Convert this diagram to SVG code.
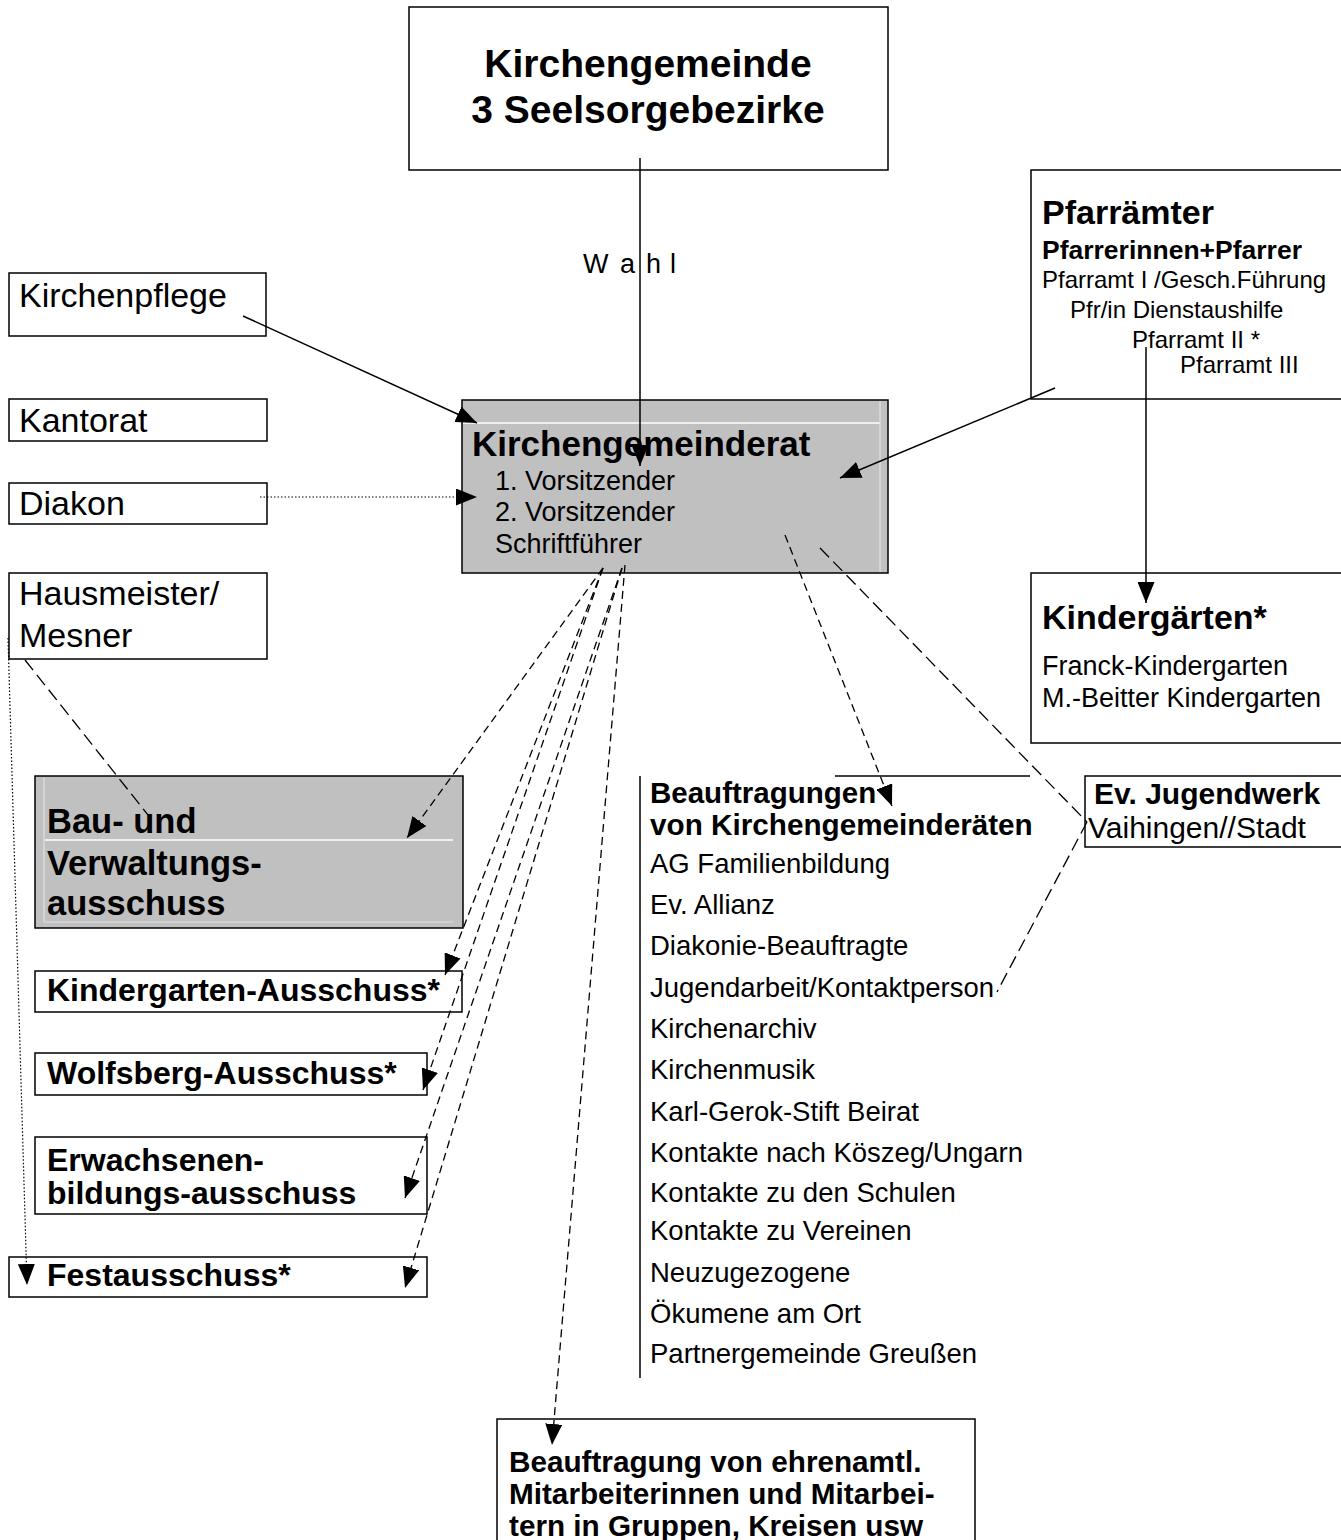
<svg xmlns="http://www.w3.org/2000/svg" width="1341" height="1540" viewBox="0 0 1341 1540">
<defs>
<marker id="ah" viewBox="0 0 21 17" refX="21" refY="8.5" markerWidth="21" markerHeight="17" markerUnits="userSpaceOnUse" orient="auto"><path d="M0,0 L21,8.5 L0,17 z" fill="#000"/></marker>
</defs>
<style>
.box{fill:#fff;stroke:#000;stroke-width:1.5}
.gbox{fill:#c0c0c0;stroke:#000;stroke-width:1.5}
.wl{stroke:#fff;stroke-width:1.5}
.fl{stroke:#e2e2e2;stroke-width:1.2}
text{font-family:"Liberation Sans",Arial,sans-serif;fill:#000}
.b{font-weight:bold}
.solid{fill:none;stroke:#000;stroke-width:1.5}
.dash{fill:none;stroke:#000;stroke-width:1.3;stroke-dasharray:8 5}
.ldash{fill:none;stroke:#000;stroke-width:1.3;stroke-dasharray:13 6}
.dot{fill:none;stroke:#000;stroke-width:1.2;stroke-dasharray:1.5 2}
.arr{marker-end:url(#ah)}
</style>
<rect width="1341" height="1540" fill="#fff"/>

<g id="kirchengemeinde">
<rect class="box" x="409" y="7" width="479" height="163"/>
<text class="b" x="648" y="77" font-size="39" text-anchor="middle">Kirchengemeinde</text>
<text class="b" x="648" y="123" font-size="39" text-anchor="middle">3 Seelsorgebezirke</text>
</g>

<g id="kirchenpflege">
<rect class="box" x="9" y="273" width="257" height="63"/>
<text x="19" y="307" font-size="34">Kirchenpflege</text>
</g>
<g id="kantorat">
<rect class="box" x="9" y="399" width="258" height="42"/>
<text x="19" y="432" font-size="34">Kantorat</text>
</g>
<g id="diakon">
<rect class="box" x="9" y="483" width="258" height="41"/>
<text x="19" y="515" font-size="34">Diakon</text>
</g>
<g id="hausmeister">
<rect class="box" x="9" y="573" width="258" height="86"/>
<text x="19" y="605" font-size="34">Hausmeister/</text>
<text x="19" y="647" font-size="34">Mesner</text>
</g>

<g id="kirchengemeinderat">
<rect class="gbox" x="462" y="400" width="426" height="173"/>
<line class="wl" x1="463" y1="423" x2="880" y2="423"/>
<line class="fl" x1="880" y1="401" x2="880" y2="572"/>
<text class="b" x="472" y="456" font-size="35">Kirchengemeinderat</text>
<text x="495" y="490" font-size="27">1. Vorsitzender</text>
<text x="495" y="521" font-size="27">2. Vorsitzender</text>
<text x="495" y="553" font-size="27">Schriftführer</text>
</g>

<g id="pfarraemter">
<rect class="box" x="1031" y="170" width="330" height="229"/>
<text class="b" x="1042" y="224" font-size="34">Pfarrämter</text>
<text class="b" x="1042" y="259" font-size="26.5">Pfarrerinnen+Pfarrer</text>
<text x="1042" y="288" font-size="24">Pfarramt I /Gesch.Führung</text>
<text x="1070" y="318" font-size="24">Pfr/in Dienstaushilfe</text>
<text x="1132" y="348" font-size="24">Pfarramt II *</text>
<text x="1180" y="373" font-size="24">Pfarramt III</text>
</g>

<g id="kindergaerten">
<rect class="box" x="1031" y="573" width="330" height="170"/>
<text class="b" x="1042" y="629" font-size="34">Kindergärten*</text>
<text x="1042" y="675" font-size="27">Franck-Kindergarten</text>
<text x="1042" y="707" font-size="27">M.-Beitter Kindergarten</text>
</g>

<g id="jugendwerk">
<rect class="box" x="1085" y="776" width="300" height="71"/>
<text class="b" x="1094" y="804" font-size="30">Ev. Jugendwerk</text>
<text x="1088" y="838" font-size="30">Vaihingen//Stadt</text>
</g>

<g id="beauftragungen">
<line class="solid" x1="835" y1="776" x2="1030" y2="776"/>
<line class="solid" x1="640" y1="776" x2="640" y2="1378"/>
<text class="b" x="650" y="803" font-size="29.5">Beauftragungen</text>
<text class="b" x="650" y="835" font-size="29.7">von Kirchengemeinderäten</text>
<text x="650" y="873" font-size="27.5">AG Familienbildung</text>
<text x="650" y="914" font-size="27.5">Ev. Allianz</text>
<text x="650" y="955" font-size="27.5">Diakonie-Beauftragte</text>
<text x="650" y="997" font-size="27.5">Jugendarbeit/Kontaktperson</text>
<text x="650" y="1038" font-size="27.5">Kirchenarchiv</text>
<text x="650" y="1079" font-size="27.5">Kirchenmusik</text>
<text x="650" y="1121" font-size="27.5">Karl-Gerok-Stift Beirat</text>
<text x="650" y="1162" font-size="27.5">Kontakte nach Köszeg/Ungarn</text>
<text x="650" y="1202" font-size="27.5">Kontakte zu den Schulen</text>
<text x="650" y="1240" font-size="27.5">Kontakte zu Vereinen</text>
<text x="650" y="1282" font-size="27.5">Neuzugezogene</text>
<text x="650" y="1323" font-size="27.5">Ökumene am Ort</text>
<text x="650" y="1363" font-size="27.5">Partnergemeinde Greußen</text>
</g>

<g id="bauausschuss">
<rect class="gbox" x="35" y="776" width="428" height="152"/>
<line class="fl" x1="44" y1="778" x2="44" y2="922"/>
<line class="fl" x1="44" y1="922" x2="453" y2="922"/>
<line class="wl" x1="45" y1="840" x2="453" y2="840"/>
<text class="b" x="47" y="833" font-size="34.5">Bau- und</text>
<text class="b" x="47" y="875" font-size="34.5">Verwaltungs-</text>
<text class="b" x="47" y="915" font-size="34.5">ausschuss</text>
</g>

<g id="kindergartenausschuss">
<rect class="box" x="35" y="971" width="427" height="41"/>
<text class="b" x="47" y="1001" font-size="32">Kindergarten-Ausschuss*</text>
</g>
<g id="wolfsbergausschuss">
<rect class="box" x="35" y="1053" width="392" height="42"/>
<text class="b" x="47" y="1084" font-size="32">Wolfsberg-Ausschuss*</text>
</g>
<g id="erwachsenenbildung">
<rect class="box" x="35" y="1137" width="392" height="77"/>
<text class="b" x="47" y="1171" font-size="32">Erwachsenen-</text>
<text class="b" x="47" y="1204" font-size="32">bildungs-ausschuss</text>
</g>
<g id="festausschuss">
<rect class="box" x="9" y="1257" width="418" height="40"/>
<text class="b" x="47" y="1286" font-size="32">Festausschuss*</text>
</g>

<g id="ehrenamtliche">
<rect class="box" x="497" y="1419" width="478" height="200"/>
<text class="b" x="509" y="1472" font-size="29.7">Beauftragung von ehrenamtl.</text>
<text class="b" x="509" y="1504" font-size="29.7">Mitarbeiterinnen und Mitarbei-</text>
<text class="b" x="509" y="1536" font-size="29.7">tern in Gruppen, Kreisen usw</text>
</g>

<g id="connectors">
<line class="solid arr" x1="640" y1="158" x2="640" y2="466"/>
<g font-size="27">
<text x="583" y="273">W</text>
<text x="620" y="273">a</text>
<text x="646" y="273">h</text>
<text x="670" y="273">l</text>
</g>
<line class="solid arr" x1="243" y1="316" x2="477" y2="423"/>
<line class="dot arr" x1="260" y1="497" x2="477" y2="497"/>
<line class="solid arr" x1="1055" y1="388" x2="840" y2="478"/>
<line class="solid arr" x1="1146" y1="347" x2="1146" y2="603"/>
<line class="dash arr" x1="785" y1="535" x2="892" y2="806"/>
<line class="ldash" x1="820" y1="548" x2="1087" y2="822"/>
<line class="ldash" x1="1087" y1="822" x2="997" y2="992"/>
<line class="ldash" x1="25" y1="660" x2="152" y2="820"/>
<line class="dot arr" x1="8" y1="638" x2="27" y2="1285"/>
<line class="dash arr" x1="603" y1="568" x2="407" y2="838"/>
<line class="dash arr" x1="603" y1="568" x2="445" y2="975"/>
<line class="dash arr" x1="603" y1="568" x2="423" y2="1090"/>
<line class="dash arr" x1="622" y1="568" x2="405" y2="1198"/>
<line class="dash arr" x1="622" y1="568" x2="405" y2="1288"/>
<line class="dash arr" x1="625" y1="565" x2="552" y2="1445"/>
</g>
</svg>
